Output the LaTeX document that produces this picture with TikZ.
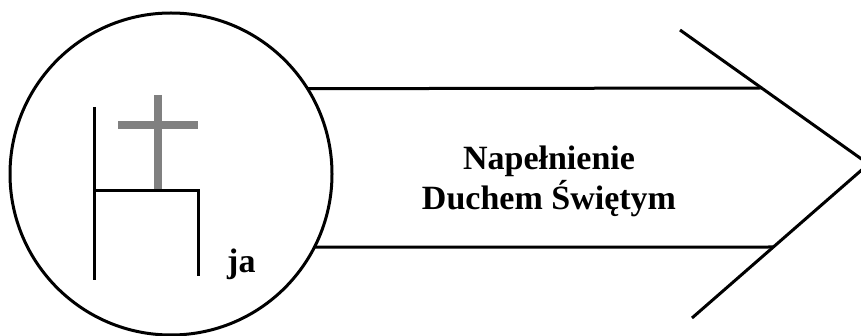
\documentclass[tikz,border=0pt]{standalone}
\usepackage{fontspec}
\setmainfont{Liberation Serif}
\begin{document}
\begin{tikzpicture}[x=1pt,y=-1pt,
  stroke/.style={line width=3pt, black},
  crossbar/.style={line width=8.5pt, color={rgb,255:red,128;green,128;blue,128}},
  label/.style={font=\bfseries\fontsize{34}{40}\selectfont, align=center, inner sep=0pt}]
\clip (0,0) rectangle (861,336);
\useasboundingbox (0,0) rectangle (861,336);
% circle
\node[stroke, draw, circle, minimum size=322pt, inner sep=0pt, outer sep=0pt] (me) at (171,174) {};
% cross
\coordinate (cb) at (158,191);
\coordinate (ct) at (158,95);
\coordinate (cl) at (118,125);
\coordinate (cr) at (198,125);
\draw[crossbar] (ct) -- (cb);
\draw[crossbar] (cl) -- (cr);
% figure
\coordinate (lt) at (94,107);
\coordinate (lb) at (94,280);
\coordinate (hl) at (94,191);
\coordinate (hr) at (198,191);
\coordinate (rb) at (198,276);
\draw[stroke] (lt) -- (lb);
\draw[stroke] (hl) -- (hr) -- (rb);
% arrow
\coordinate (ut) at (762,88);
\coordinate (lw) at (773,247);
\coordinate (tip) at (868.5,164);
\coordinate (ua) at (680,30);
\coordinate (la) at (692,318);
\draw[stroke] (me.32.3) -- (ut);
\draw[stroke] (me.-27) -- (lw);
\draw[stroke] (ua) -- (tip) -- (la);
% texts
\node[label] (title) at (549,181) {Napełnienie\\Duchem Świętym};
\node[label, anchor=base west] (ja) at (227,273) {ja};
\end{tikzpicture}
\end{document}
